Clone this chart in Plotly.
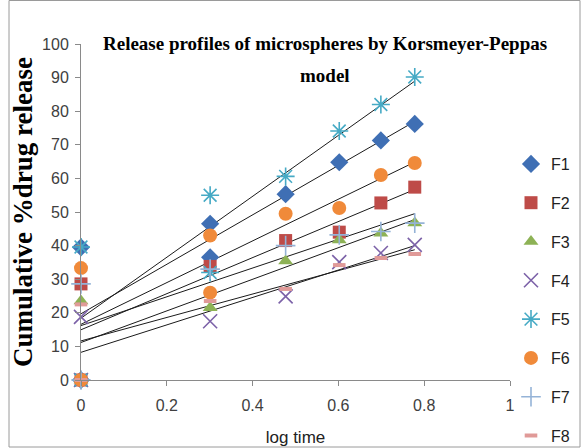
import numpy as np
import plotly.graph_objects as go

# ---- data ----
series_names = ["F1", "F2", "F3", "F4", "F5", "F6", "F7", "F8"]
log_time = [0, 0, 0.301, 0.477, 0.602, 0.699, 0.778]

F1 = [0, 39.5, 46.5, 55.3, 64.8, 71.3, 76.2]
F2 = [0, 28.6, 33.8, 41.5, 44.0, 52.7, 57.4]
F3 = [0, 23.5, 21.5, 35.4, 41.7, 43.7, 46.7]
F4 = [0, 18.8, 17.5, 24.9, 35.1, 37.8, 40.2]
F5 = [0, 39.6, 55.0, 60.6, 74.1, 82.0, 90.2]
F6 = [0, 33.3, 43.0, 49.5, 51.2, 61.0, 64.6]
F7 = [0, 28.6, 33.0, 40.0, 43.2, 44.2, 46.7]
F8 = [0, 22.5, 23.5, 27.1, 34.2, 36.3, 37.5]

# extra replicate points visible at log time 0.301
extra_x = {"F1": [0.301], "F5": [0.301], "F6": [0.301]}
extra_y = {"F1": [36.5], "F5": [32.0], "F6": [26.0]}

x_ticks = [0, 0.2, 0.4, 0.6, 0.8, 1]
y_ticks = [0, 10, 20, 30, 40, 50, 60, 70, 80, 90, 100]

values = [F1, F2, F3, F4, F5, F6, F7, F8]

# ---- styles ----
colors = ["#3F6FB4", "#BE4B48", "#8DB255", "#7C62A8", "#46AAC5", "#F08A3A", "#95B3D7", "#E09A98"]
symbols = ["diamond", "square", "triangle-up", "x-thin-open", "asterisk-open",
           "circle", "cross-thin-open", "line-ew-open"]
sizes = [14, 13, 13, 14, 15, 14, 14, 9]
line_w = [0, 0, 0, 1.6, 1.6, 0, 1.6, 4]

W, H = 581, 448
ML, MR, MT, MB = 81, 71, 44, 68
PW, PH = W - ML - MR, H - MT - MB

fig = go.Figure()

# trend lines (least-squares fit of each series)
for name, ys in zip(series_names, values):
    xs = list(log_time) + extra_x.get(name, [])
    yy = list(ys) + extra_y.get(name, [])
    k, b = np.polyfit(xs, yy, 1)
    xl = [min(xs), max(xs)]
    fig.add_trace(go.Scatter(x=xl, y=[k * v + b for v in xl], mode="lines",
                             line=dict(color="#1a1a1a", width=1),
                             showlegend=False, hoverinfo="skip"))

for i, (name, ys) in enumerate(zip(series_names, values)):
    xs = list(log_time) + extra_x.get(name, [])
    yy = list(ys) + extra_y.get(name, [])
    open_sym = symbols[i].endswith("open")
    marker = dict(symbol=symbols[i], size=sizes[i], color=colors[i])
    if open_sym:
        marker["line"] = dict(color=colors[i], width=line_w[i])
    else:
        marker["line"] = dict(width=0)
    fig.add_trace(go.Scatter(x=xs, y=yy, mode="markers", name=name, marker=marker,
                             cliponaxis=False, legendgroup=name))

axis_font = dict(family="Liberation Sans Narrow, Liberation Sans, Arial", size=16, color="#404040")

fig.update_layout(
    width=W, height=H,
    margin=dict(l=ML, r=MR, t=MT, b=MB, autoexpand=False),
    paper_bgcolor="white", plot_bgcolor="white",
    showlegend=True,
    legend=dict(x=(511 - ML) / PW, xanchor="left", y=(H - MB - 147) / PH, yanchor="top",
                font=dict(family="Liberation Sans Narrow, Liberation Sans, Arial", size=16, color="#222"),
                tracegroupgap=15, itemwidth=30, bgcolor="rgba(0,0,0,0)", maxheight=600),
    xaxis=dict(range=[0, 1], tickvals=x_ticks, ticktext=[str(v) for v in x_ticks],
               showgrid=False, zeroline=False, showline=True, linecolor="#8a8a8a", linewidth=1,
               ticks="outside", ticklen=5, tickcolor="#8a8a8a", tickfont=axis_font,
               ticklabelstandoff=6,
               title=dict(text="log time", standoff=17,
                          font=dict(family="Liberation Sans, Arial", size=17, color="#222"))),
    yaxis=dict(range=[0, 100], tickvals=y_ticks, showgrid=False, zeroline=False,
               showline=True, linecolor="#8a8a8a", linewidth=1,
               ticks="outside", ticklen=5, tickcolor="#8a8a8a", tickfont=axis_font,
               ticklabelstandoff=3,
               title=dict(text="<b>Cumulative %drug release</b>", standoff=1,
                          font=dict(family="Liberation Serif, Times New Roman, serif", size=27, color="black"))),
)

title_font = dict(family="Liberation Serif, Times New Roman, serif", size=19, color="black")
fig.add_annotation(text="<b>Release profiles of microspheres by Korsmeyer-Peppas</b>",
                   xref="paper", yref="paper", x=(325 - ML) / PW, y=(H - MB - 43) / PH,
                   xanchor="center", yanchor="middle", showarrow=False, font=title_font)
fig.add_annotation(text="<b>model</b>",
                   xref="paper", yref="paper", x=(325 - ML) / PW, y=(H - MB - 75) / PH,
                   xanchor="center", yanchor="middle", showarrow=False, font=title_font)

# outer chart border
fig.add_shape(type="rect", xref="paper", yref="paper",
              x0=(9 - ML) / PW, x1=(W - 1 - ML) / PW,
              y0=(H - MB - (H - 1)) / PH, y1=(H - MB - 0.5) / PH,
              line=dict(color="#9a9a9a", width=1), fillcolor="rgba(0,0,0,0)", layer="below")

fig.write_html("out.html")
